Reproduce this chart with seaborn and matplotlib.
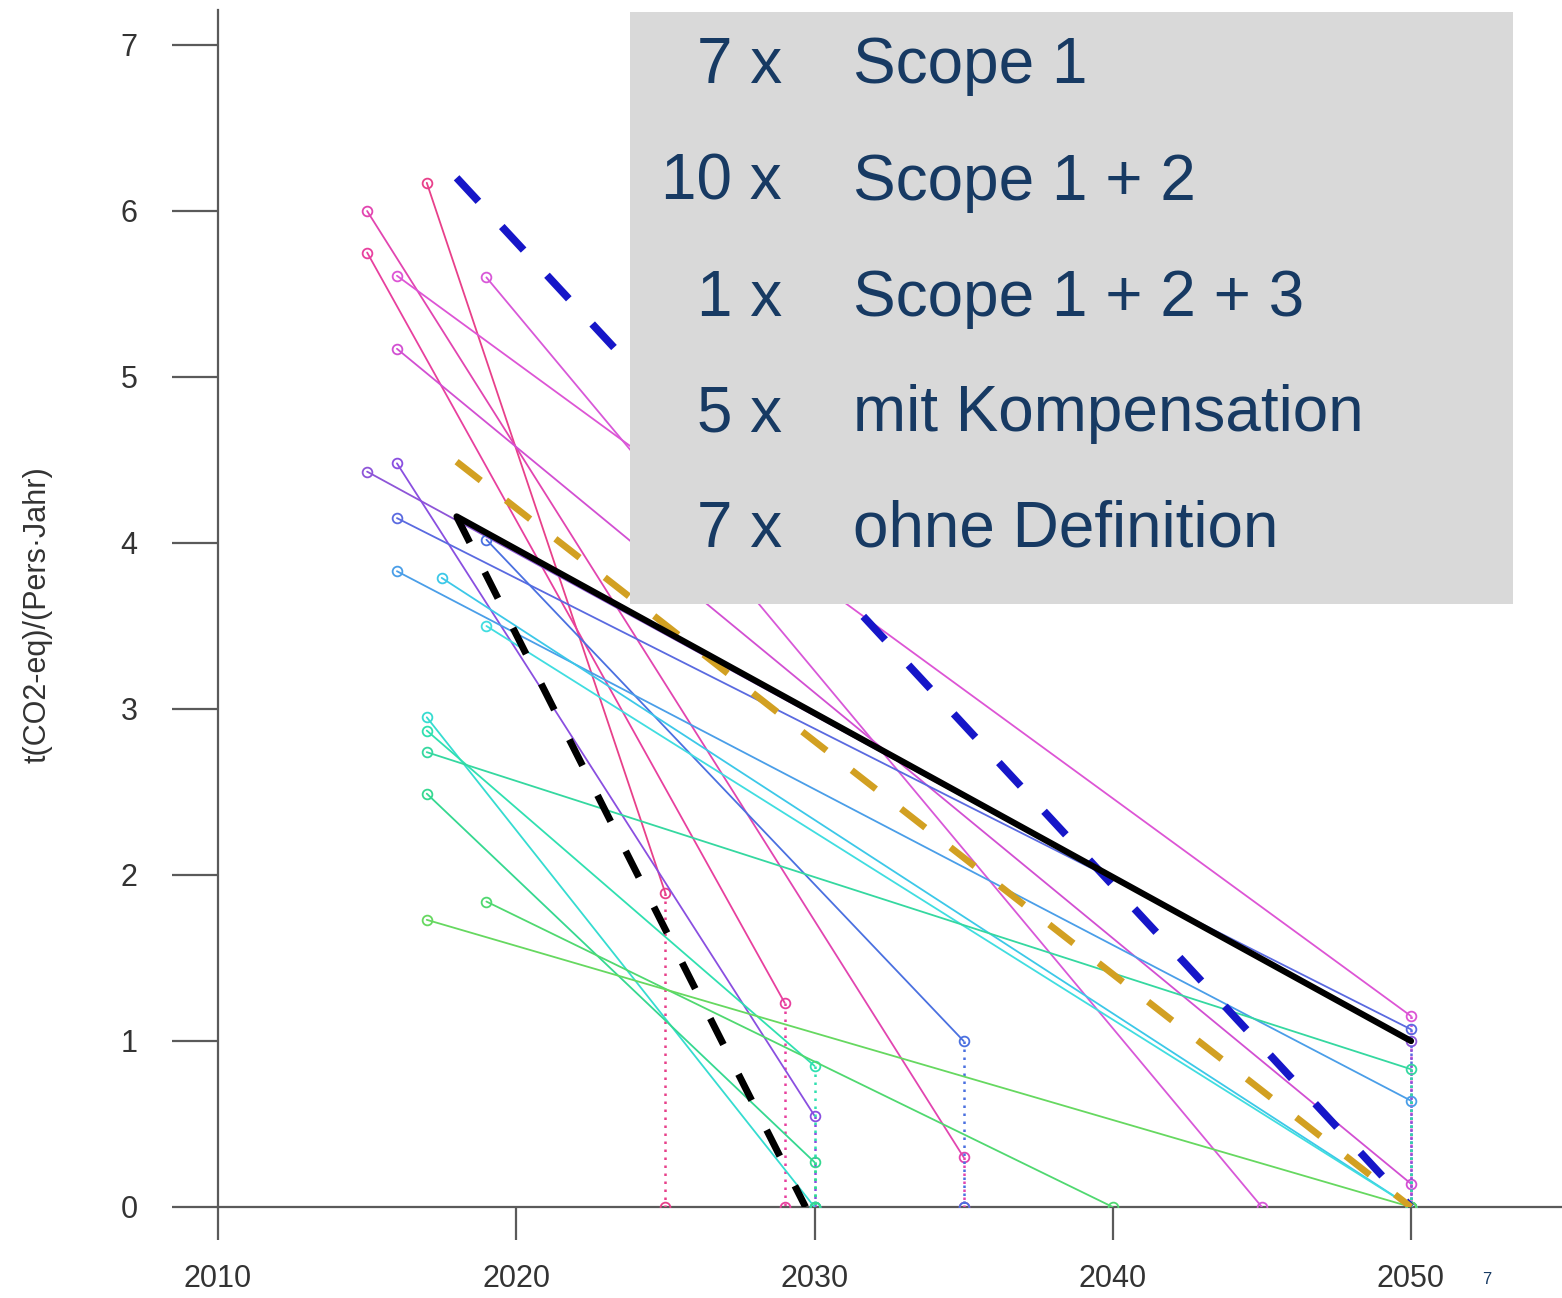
import pandas as pd
import matplotlib.pyplot as plt
import seaborn as sns
from matplotlib.patches import Rectangle

sns.set_style("white")
plt.rcParams['font.family'] = ['Liberation Sans', 'DejaVu Sans']

# Zielpfade der Städte: Startjahr/-wert -> Zieljahr/-wert
start_year = [2017, 2015, 2015, 2016, 2016, 2019, 2015, 2016, 2016, 2019,
              2016, 2017.5, 2019, 2017, 2017, 2017, 2017, 2019, 2017]
start_val = [6.17, 5.75, 6.00, 5.61, 5.17, 5.60, 4.43, 4.48, 4.15, 4.02,
             3.83, 3.79, 3.50, 2.95, 2.87, 2.74, 2.49, 1.84, 1.73]
end_year = [2025, 2029, 2035, 2050, 2050, 2045, 2050, 2030, 2050, 2035,
            2050, 2050, 2050, 2030, 2030, 2050, 2030, 2040, 2050]
end_val = [1.89, 1.23, 0.30, 1.15, 0.14, 0.00, 1.00, 0.55, 1.07, 1.00,
           0.64, 0.00, 0.00, 0.00, 0.85, 0.83, 0.27, 0.00, 0.00]
line_colors = ['#e8408a', '#e8409e', '#e245b0', '#dd55d5', '#d24fd2', '#d858d8',
               '#8e55d8', '#8a4fe0', '#5a6ae0', '#4a70e0', '#4a9ee8', '#3cc8e8',
               '#40dde0', '#35dcd0', '#30e0b0', '#35d8a0', '#35d890', '#50d870',
               '#66d860']

# Referenzpfade (dick)
ref_names = ['blau_gestrichelt', 'gold_gestrichelt', 'schwarz', 'schwarz_gestrichelt']
ref_start_year = [2018, 2018, 2018, 2018]
ref_start_val = [6.20, 4.49, 4.16, 4.16]
ref_end_year = [2050, 2050, 2050, 2029.7]
ref_end_val = [0.00, 0.00, 1.00, 0.00]

y_ticks = [0, 1, 2, 3, 4, 5, 6, 7]
x_ticks = [2010, 2020, 2030, 2040, 2050]

box_counts = ['7 x', '10 x', '1 x', '5 x', '7 x']
box_labels = ['Scope 1', 'Scope 1 + 2', 'Scope 1 + 2 + 3', 'mit Kompensation', 'ohne Definition']

W, H = 1562, 1298
fig = plt.figure(figsize=(W / 100, H / 100), dpi=100)
ax = fig.add_axes([218 / W, (H - 1207) / H, (W - 218) / W, (1207 - 10) / H])

for i in range(len(start_year)):
    c = line_colors[i]
    seg = pd.DataFrame({'Jahr': [start_year[i], end_year[i]],
                        'Wert': [start_val[i], end_val[i]]})
    sns.lineplot(data=seg, x='Jahr', y='Wert', ax=ax, color=c, lw=1.3,
                 marker='o', ms=7, mfc='none', mec=c, mew=1.3,
                 estimator=None, legend=False, zorder=2)
    if end_val[i] > 0:
        drop = pd.DataFrame({'Jahr': [end_year[i], end_year[i]],
                             'Wert': [end_val[i], 0]})
        drop_line = sns.lineplot(data=drop, x='Jahr', y='Wert', ax=ax, color=c, lw=1.8,
                                 estimator=None, sort=False, legend=False,
                                 zorder=2).lines[-1]
        drop_line.set_dashes((1, 2.2))
        sns.lineplot(x=[end_year[i]], y=[0], ax=ax, color=c, marker='o', ms=7,
                     mfc='none', mec=c, mew=1.3, estimator=None, legend=False, zorder=2)

ref_styles = {
    'blau_gestrichelt': dict(color='#1616c8', lw=5.5, dashes=(4.2, 4.5)),
    'gold_gestrichelt': dict(color='#d2a022', lw=4.8, dashes=(4.6, 4.8)),
    'schwarz': dict(color='black', lw=4.5),
    'schwarz_gestrichelt': dict(color='black', lw=5.0, dashes=(4.2, 4.8)),
}
for i, name in enumerate(ref_names):
    st = ref_styles[name]
    seg = pd.DataFrame({'Jahr': [ref_start_year[i], ref_end_year[i]],
                        'Wert': [ref_start_val[i], ref_end_val[i]]})
    line = sns.lineplot(data=seg, x='Jahr', y='Wert', ax=ax, color=st['color'],
                        lw=st['lw'], estimator=None, legend=False, zorder=4).lines[-1]
    if 'dashes' in st:
        line.set_dashes(st['dashes'])
        line.set_dash_capstyle('butt')

ax.set_xlim(2010, 2010 + (W - 218) / 29.825)
ax.set_ylim(0, (1207 - 10) / 166)
ax.set_xticks(x_ticks)
ax.set_yticks(y_ticks)
ax.set_xticklabels([str(t) for t in x_ticks])
ax.set_yticklabels([str(t) for t in y_ticks])
ax.set_xlabel('')
ax.set_ylabel('')
for s in ['top', 'right']:
    ax.spines[s].set_visible(False)
for s in ['left', 'bottom']:
    ax.spines[s].set_color('#5a5a5a')
    ax.spines[s].set_linewidth(1.6)
    ax.spines[s].set_zorder(1)
ax.tick_params(axis='y', left=True, length=33, width=1.6, color='#5a5a5a', pad=25,
               labelsize=22, labelcolor='#333333')
ax.tick_params(axis='x', bottom=True, length=24, width=1.6, color='#5a5a5a', pad=17,
               labelsize=22, labelcolor='#333333')

fig.text(38 / W, 1 - 615 / H, 't(CO2-eq)/(Pers·Jahr)', rotation=90,
         ha='center', va='center', fontsize=22, color='#333333')

# graue Box mit Legende
fig.patches.append(Rectangle((630 / W, 1 - 604 / H), (1513 - 630) / W, (604 - 12) / H,
                             transform=fig.transFigure, facecolor='#d9d9d9',
                             edgecolor='none', zorder=5))
baselines = [83, 200, 316, 431, 547]
for b, cnt, lab in zip(baselines, box_counts, box_labels):
    fig.text(782 / W, 1 - b / H, cnt, ha='right', va='baseline', fontsize=46,
             color='#173a63', zorder=6)
    fig.text(853 / W, 1 - b / H, lab, ha='left', va='baseline', fontsize=46,
             color='#173a63', zorder=6)

fig.text(1487 / W, 1 - 1280 / H, '7', ha='center', va='center', fontsize=12,
         color='#173a63')

fig.savefig('out.png', dpi=100, facecolor='white')
